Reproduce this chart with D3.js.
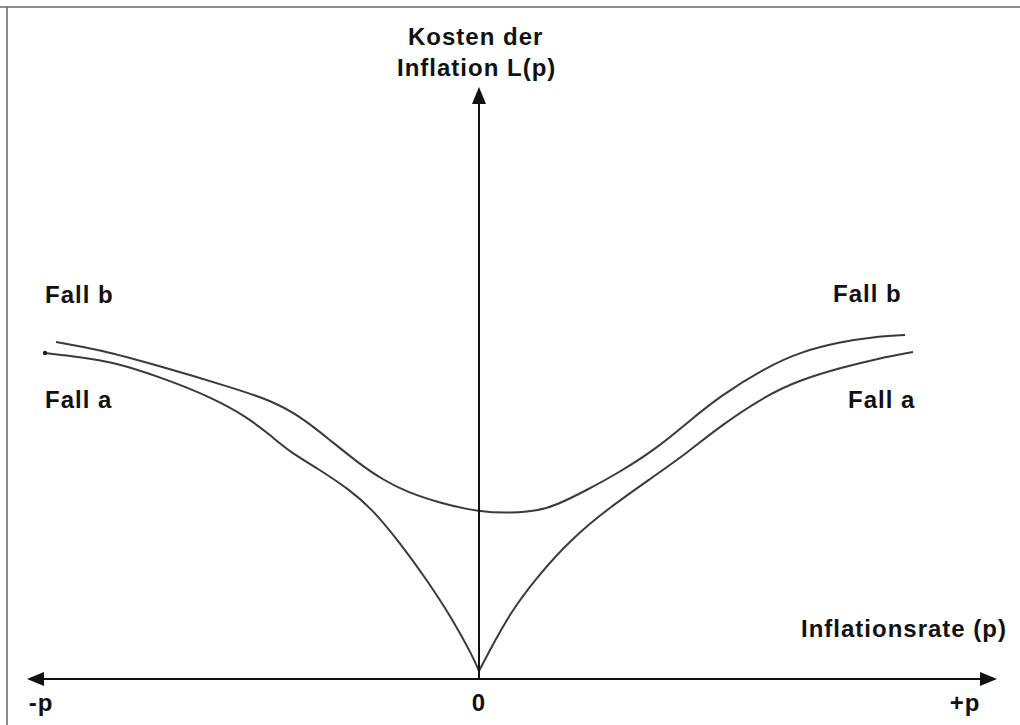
<!DOCTYPE html>
<html>
<head>
<meta charset="utf-8">
<script src="https://cdn.jsdelivr.net/npm/d3@7"></script>
<style>
  body { margin: 0; background: #fff; }
  text { font-family: "Liberation Sans", Arial, sans-serif; font-weight: bold; font-size: 24px; fill: #111; letter-spacing: 1px; }
</style>
</head>
<body>
<script>
// Kosten der Inflation: Fall a (V-shape) und Fall b (flacher Boden)
// values are in arbitrary units (x: inflation rate, y: cost)

var fallB = [
  {x:-42.3,y:33.7},{x:-38.2,y:33.0},{x:-31.6,y:31.2},{x:-24.9,y:29.2},{x:-20.9,y:27.9},
  {x:-17.9,y:26.3},{x:-14.9,y:23.9},{x:-12.2,y:21.7},{x:-9.6,y:19.9},{x:-7.2,y:18.7},
  {x:-3.9,y:17.6},{x:0,y:16.7},{x:3.4,y:16.6},{x:5.8,y:16.8},{x:7.8,y:17.4},
  {x:10.8,y:18.9},{x:14.1,y:20.7},{x:17.8,y:23.1},{x:20.8,y:25.6},{x:24.1,y:28.3},
  {x:28.8,y:31.2},{x:32.1,y:32.7},{x:36.1,y:33.7},{x:39.4,y:34.2},{x:42.6,y:34.4}
];

// Fall a has a kink at p = 0, so it is kept as two branches
var fallALeft = [
  {x:-43.4,y:32.6},{x:-39.9,y:32.2},{x:-36.6,y:31.7},{x:-31.6,y:30.1},{x:-26.6,y:28.1},
  {x:-23.2,y:26.2},{x:-20.9,y:24.4},{x:-18.9,y:22.7},{x:-16.2,y:21.1},{x:-12.9,y:18.9},
  {x:-10.6,y:16.9},{x:-7.9,y:13.6},{x:-5.2,y:9.9},{x:-2.6,y:5.9},{x:-0.6,y:2.2},{x:0,y:0.8}
];
var fallARight = [
  {x:0,y:0.8},{x:1.1,y:2.9},{x:3.1,y:6.6},{x:5.8,y:10.2},{x:9.1,y:13.9},{x:13.1,y:17.2},
  {x:17.4,y:20.2},{x:20.8,y:22.6},{x:24.1,y:25.3},{x:28.8,y:28.4},{x:32.1,y:29.9},
  {x:36.1,y:31.1},{x:40.1,y:32.1},{x:43.4,y:32.7}
];

// tick labels under the x axis
var tickValues = [-43.8, 0, 48.6];
var tickLabels = ["-p", "0", "+p"];

var W = 1020, H = 725;
var svg = d3.select("body").append("svg").attr("width", W).attr("height", H);

// scales: 10px per unit, origin where the axes cross
var x = d3.scaleLinear().domain([-45.2, 51.8]).range([27, 997]);
var y = d3.scaleLinear().domain([0, 59.2]).range([679, 87]);

// frame lines (top and left only, like the source image)
svg.append("line").attr("x1", 0).attr("x2", W).attr("y1", 7).attr("y2", 7)
   .attr("stroke", "#666").attr("stroke-width", 1.5);
svg.append("line").attr("x1", 7).attr("x2", 7).attr("y1", 7).attr("y2", H)
   .attr("stroke", "#666").attr("stroke-width", 1.5);

// line generator - basis curve evens out the reading noise
var line = d3.line()
    .x(function(d){ return x(d.x); })
    .y(function(d){ return y(d.y); })
    .curve(d3.curveBasis);

[fallB, fallALeft, fallARight].forEach(function(data){
  svg.append("path").attr("d", line(data))
     .attr("fill", "none")
     .attr("stroke", "#3a3a3a")
     .attr("stroke-width", 2);
});

// small dot where Fall a starts on the left
svg.append("circle").attr("cx", x(fallALeft[0].x)).attr("cy", y(fallALeft[0].y))
   .attr("r", 2.2).attr("fill", "#222");

// axes with arrow heads
var x0 = x(0), y0 = y(0);
var xl = x.range()[0], xr = x.range()[1], yt = y.range()[1];
var ah = 17, aw = 7;

svg.append("line").attr("x1", xl + ah).attr("x2", xr - ah).attr("y1", y0).attr("y2", y0)
   .attr("stroke", "#111").attr("stroke-width", 2);
svg.append("line").attr("x1", x0).attr("x2", x0).attr("y1", y0).attr("y2", yt + ah)
   .attr("stroke", "#111").attr("stroke-width", 2);

svg.append("path")
   .attr("d", "M" + xl + "," + y0 + "L" + (xl + ah) + "," + (y0 - aw) + "L" + (xl + ah) + "," + (y0 + aw) + "Z")
   .attr("fill", "#111");
svg.append("path")
   .attr("d", "M" + xr + "," + y0 + "L" + (xr - ah) + "," + (y0 - aw) + "L" + (xr - ah) + "," + (y0 + aw) + "Z")
   .attr("fill", "#111");
svg.append("path")
   .attr("d", "M" + x0 + "," + yt + "L" + (x0 - aw) + "," + (yt + ah) + "L" + (x0 + aw) + "," + (yt + ah) + "Z")
   .attr("fill", "#111");

// tick labels
svg.selectAll("text.tick").data(tickValues).enter().append("text")
   .attr("class", "tick")
   .attr("x", function(d){ return x(d); })
   .attr("y", 711)
   .attr("text-anchor", "middle")
   .text(function(d, i){ return tickLabels[i]; });

// axis titles
svg.append("text").attr("x", 408).attr("y", 45).text("Kosten der");
svg.append("text").attr("x", 397).attr("y", 76).text("Inflation L(p)");
svg.append("text").attr("x", 801).attr("y", 637).text("Inflationsrate (p)");

// curve labels
svg.append("text").attr("x", 45).attr("y", 303).text("Fall b");
svg.append("text").attr("x", 45).attr("y", 408).text("Fall a");
svg.append("text").attr("x", 833).attr("y", 302).text("Fall b");
svg.append("text").attr("x", 848).attr("y", 408).text("Fall a");
</script>
</body>
</html>
